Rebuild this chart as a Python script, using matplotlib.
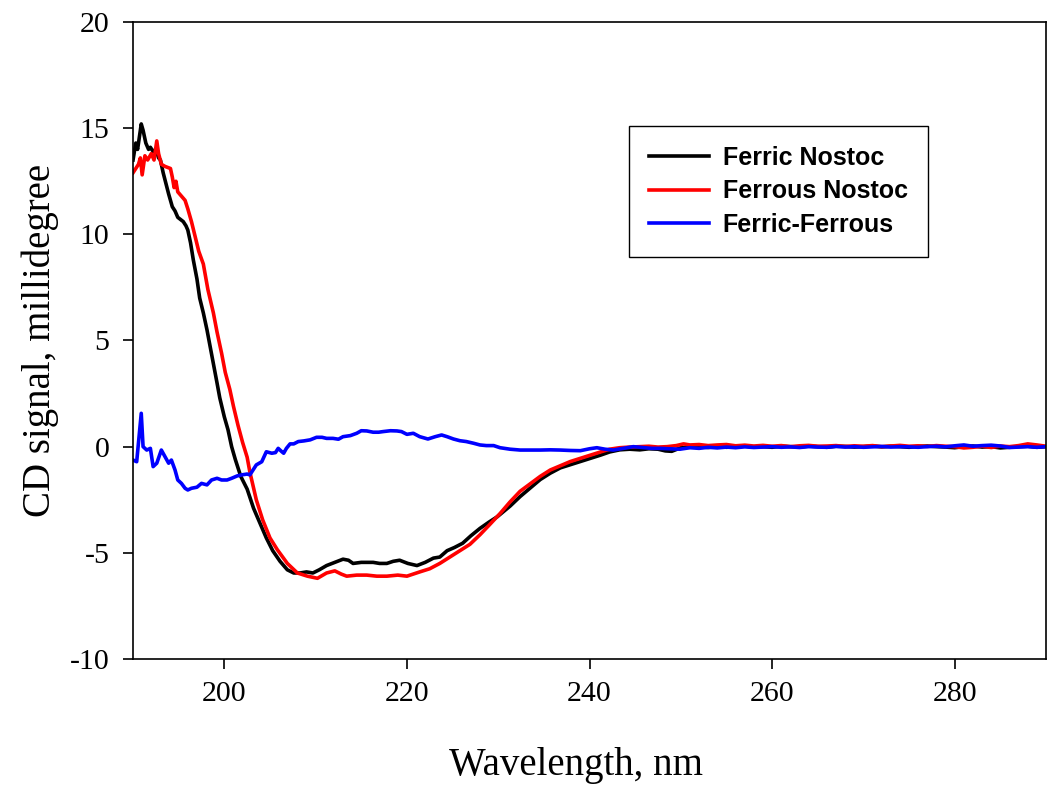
import matplotlib
matplotlib.use("Agg")
import matplotlib.pyplot as plt

plt.rcParams['axes.unicode_minus'] = False

# Ferric Nostoc (black)
wl_ferric = [190.0, 190.3, 190.5, 190.9, 191.1, 191.4, 191.7, 191.9, 192.2, 192.5,
             192.8, 193.0, 193.3, 193.6, 193.9, 194.3, 194.6, 194.9, 195.2, 195.5,
             195.8, 196.0, 196.3, 196.6, 197.0, 197.3, 197.7, 198.1, 198.5, 198.8,
             199.2, 199.5, 200.0, 200.4, 200.8, 201.2, 201.8, 202.5, 203.2, 203.9,
             204.6, 205.3, 206.1, 206.9, 207.6, 208.3, 209.0, 209.7, 210.4, 211.2,
             212.1, 213.0, 213.6, 214.1, 215.0, 216.3, 217.0, 217.8, 218.5, 219.2,
             220.1, 221.1, 222.0, 222.9, 223.6, 224.4, 225.2, 226.1, 227.0, 228.0,
             229.0, 229.9, 231.3, 232.4, 233.5, 234.6, 235.7, 236.8, 237.9, 239.0,
             240.1, 241.2, 242.2, 243.3, 244.4, 245.5, 246.5, 247.5, 248.3, 249.0,
             250, 251, 252, 253, 254, 255, 256, 257, 258, 259,
             260, 261, 262, 263, 264, 265, 266, 267, 268, 269,
             270, 271, 272, 273, 274, 275, 276, 277, 278, 279,
             280, 281, 282, 283, 284, 285, 286, 287, 288, 289, 290]
cd_ferric = [13.5, 14.3, 14.0, 15.2, 14.9, 14.3, 14.0, 14.1, 13.9, 14.0,
             13.6, 13.5, 12.9, 12.4, 11.9, 11.3, 11.1, 10.8, 10.7, 10.6,
             10.4, 10.2, 9.6, 8.8, 7.9, 7.0, 6.3, 5.5, 4.6, 3.9,
             3.0, 2.3, 1.4, 0.8, 0.0, -0.6, -1.4, -2.0, -2.9, -3.6,
             -4.3, -4.9, -5.4, -5.8, -5.95, -5.95, -5.9, -5.95, -5.8, -5.6,
             -5.45, -5.3, -5.35, -5.5, -5.45, -5.45, -5.5, -5.5, -5.4, -5.35,
             -5.5, -5.6, -5.45, -5.25, -5.2, -4.9, -4.75, -4.55, -4.2, -3.85,
             -3.55, -3.3, -2.8, -2.35, -1.95, -1.55, -1.25, -1.0, -0.85, -0.7,
             -0.55, -0.4, -0.25, -0.15, -0.12, -0.15, -0.1, -0.12, -0.2, -0.22,
             -0.05, -0.02, 0.0, -0.04, 0.02, -0.03, 0.0, 0.03, -0.02, 0.0,
             -0.03, 0.02, 0.0, -0.02, 0.03, 0.0, -0.03, 0.02, 0.01, -0.02,
             0.0, 0.03, -0.01, 0.02, 0.0, -0.03, 0.01, 0.03, 0.0, -0.02,
             -0.05, 0.0, 0.03, -0.02, 0.0, -0.06, -0.03, 0.0, 0.02, -0.03, 0.0]

# Ferrous Nostoc (red)
wl_ferrous = [190.0, 190.3, 190.6, 190.8, 191.0, 191.3, 191.6, 192.0, 192.3, 192.6,
              192.8, 193.1, 193.5, 194.1, 194.3, 194.5, 194.7, 194.9, 195.3, 195.7,
              196.0, 196.4, 196.8, 197.2, 197.7, 198.2, 198.8, 199.2, 199.7, 200.1,
              200.6, 201.0, 201.5, 202.0, 202.5, 202.8, 203.5, 204.2, 205.0, 205.8,
              206.9, 208.0, 209.1, 210.2, 211.2, 212.1, 212.8, 213.4, 214.5, 215.6,
              216.7, 217.8, 219.0, 220.0, 220.7, 221.4, 222.5, 223.6, 224.7, 225.8,
              226.9, 228.0, 229.0, 230.2, 231.3, 232.4, 233.5, 234.6, 235.7, 236.8,
              237.9, 239.0, 240.1, 241.2, 242.2, 243.3, 244.4, 245.5, 246.5, 247.5,
              248.5, 249.5, 250.3, 251, 252, 253, 254, 255, 256, 257,
              258, 259, 260, 261, 262, 263, 264, 265, 266, 267,
              268, 269, 270, 271, 272, 273, 274, 275, 276, 277,
              278, 279, 280, 281, 282, 283, 284, 285, 286, 287,
              288, 289, 290]
cd_ferrous = [12.9, 13.1, 13.3, 13.6, 12.8, 13.7, 13.5, 13.8, 13.5, 14.4,
              13.8, 13.3, 13.2, 13.1, 12.7, 12.2, 12.5, 12.0, 11.8, 11.6,
              11.2, 10.6, 9.9, 9.2, 8.6, 7.4, 6.3, 5.4, 4.4, 3.5,
              2.7, 1.9, 1.0, 0.2, -0.5, -1.2, -2.5, -3.45, -4.3, -4.85,
              -5.5, -5.95, -6.1, -6.2, -5.95, -5.85, -6.0, -6.1, -6.05, -6.05,
              -6.1, -6.1, -6.05, -6.1, -6.0, -5.9, -5.75, -5.5, -5.2, -4.9,
              -4.6, -4.15, -3.7, -3.15, -2.6, -2.1, -1.75, -1.4, -1.1, -0.9,
              -0.7, -0.55, -0.4, -0.25, -0.12, -0.05, -0.02, 0.0, 0.02, -0.02,
              0.0, 0.05, 0.13, 0.08, 0.1, 0.05, 0.08, 0.1, 0.04, 0.07,
              0.03, 0.06, 0.02, 0.05, 0.0, 0.04, 0.06, 0.02, 0.03, 0.05,
              0.01, 0.04, 0.02, 0.05, 0.0, 0.03, 0.06, 0.02, 0.04, 0.01,
              0.05, 0.02, 0.0, -0.06, -0.03, 0.02, -0.04, 0.03, 0.0, 0.05,
              0.13, 0.08, 0.02]

# Ferric-Ferrous difference (blue)
wl_diff = [190.0, 190.4, 190.7, 190.9, 191.1, 191.5, 191.9, 192.2, 192.6, 193.1,
           193.5, 193.9, 194.2, 194.6, 194.9, 195.3, 195.7, 196.0, 196.4, 197.0,
           197.5, 198.1, 198.6, 199.2, 199.7, 200.3, 200.8, 201.4, 201.9, 202.5,
           202.8, 203.5, 204.1, 204.6, 205.2, 205.6, 205.9, 206.3, 206.5, 206.8,
           207.2, 207.6, 208.1, 208.7, 209.4, 210.1, 210.7, 211.2, 211.9, 212.5,
           213.0, 213.8, 214.5, 215.0, 215.6, 216.3, 216.9, 217.4, 218.2, 218.9,
           219.4, 220.0, 220.7, 221.4, 222.3, 223.1, 223.8, 224.4, 225.1, 225.8,
           226.5, 227.3, 228.0, 228.7, 229.5, 230.2, 231.3, 232.4, 233.5, 234.6,
           235.7, 236.8, 237.9, 239.0, 240.0, 240.8, 241.7, 242.6, 243.7, 244.8,
           245.8, 246.8, 247.7, 248.8, 249.9, 251, 252, 253, 254, 255,
           256, 257, 258, 259, 260, 261, 262, 263, 264, 265,
           266, 267, 268, 269, 270, 271, 272, 273, 274, 275,
           276, 277, 278, 279, 280, 281, 282, 283, 284, 285,
           286, 287, 288, 289, 290]
cd_diff = [-0.63, -0.71, 0.63, 1.57, 0.0, -0.16, -0.08, -0.94, -0.78, -0.16,
           -0.47, -0.78, -0.63, -1.10, -1.57, -1.73, -1.96, -2.04, -1.96, -1.91,
           -1.73, -1.80, -1.57, -1.49, -1.57, -1.57, -1.49, -1.38, -1.33, -1.29,
           -1.33, -0.86, -0.71, -0.24, -0.31, -0.28, -0.08, -0.24, -0.31, -0.08,
           0.13, 0.13, 0.24, 0.27, 0.32, 0.44, 0.44, 0.39, 0.39, 0.35,
           0.47, 0.52, 0.63, 0.75, 0.74, 0.68, 0.68, 0.71, 0.75, 0.74,
           0.71, 0.58, 0.63, 0.47, 0.36, 0.47, 0.55, 0.47, 0.36, 0.28,
           0.24, 0.16, 0.08, 0.05, 0.05, -0.05, -0.12, -0.16, -0.16, -0.16,
           -0.15, -0.16, -0.18, -0.19, -0.1, -0.05, -0.12, -0.16, -0.08, 0.0,
           -0.04, -0.08, -0.08, -0.1, -0.12, -0.05, -0.08, -0.03, -0.06, -0.02,
           -0.05, -0.01, -0.04, -0.02, 0.0, -0.03, -0.01, -0.04, 0.0, -0.02,
           -0.03, 0.01, -0.02, 0.0, -0.03, -0.01, 0.01, -0.02, 0.0, -0.01,
           -0.03, 0.0, 0.02, -0.01, 0.04, 0.08, 0.02, 0.05, 0.07, 0.03,
           -0.04, -0.02, 0.0, -0.03, 0.0]

series_labels = ['Ferric Nostoc', 'Ferrous Nostoc', 'Ferric-Ferrous']
series_colors = ['black', '#ff0000', '#0000ff']

fig = plt.figure(figsize=(10.5, 7.89), dpi=100)
ax = fig.add_axes([0.1267, 0.1648, 0.8695, 0.8073])

ax.plot(wl_ferric, cd_ferric, color=series_colors[0], lw=2.6, label=series_labels[0])
ax.plot(wl_ferrous, cd_ferrous, color=series_colors[1], lw=2.6, label=series_labels[1])
ax.plot(wl_diff, cd_diff, color=series_colors[2], lw=2.6, label=series_labels[2])

ax.set_xlim(190, 290)
ax.set_ylim(-10, 20)
ax.set_xticks([200, 220, 240, 260, 280])
ax.set_yticks([-10, -5, 0, 5, 10, 15, 20])

serif = 'Liberation Serif'
for lab in ax.get_xticklabels() + ax.get_yticklabels():
    lab.set_fontfamily(serif)
    lab.set_fontsize(21.5)
ax.tick_params(axis='both', direction='out', length=7, width=1.2, color='black')
ax.tick_params(axis='x', pad=9)
ax.tick_params(axis='y', pad=10)
for sp in ax.spines.values():
    sp.set_linewidth(1.2)

ax.set_xlabel('Wavelength, nm', fontfamily=serif, fontsize=28)
ax.xaxis.set_label_coords(0.485, -0.138)
ax.set_ylabel('CD signal, millidegree', fontfamily=serif, fontsize=28, labelpad=8)

leg = ax.legend(loc='upper left', bbox_to_anchor=(0.543, 0.837), borderaxespad=0,
                prop={'family': 'Liberation Sans', 'weight': 'bold', 'size': 18},
                frameon=True, fancybox=False, edgecolor='black', framealpha=1,
                handlelength=2.4, handletextpad=0.55, labelspacing=0.38,
                borderpad=0.8)
leg.get_frame().set_linewidth(1.0)
for ln in leg.get_lines():
    ln.set_linewidth(2.6)

fig.savefig('out.png', dpi=100)
